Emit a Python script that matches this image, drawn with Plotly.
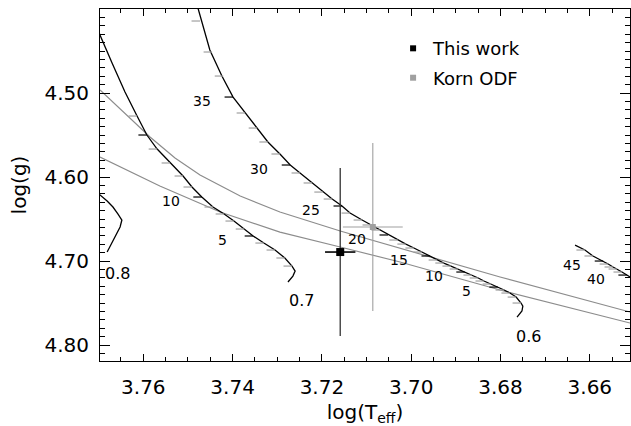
import plotly.graph_objects as go

# ---------------- evolutionary tracks (log Teff, log g) ----------------
# 0.6 Msun track
track_06_teff = [3.7482, 3.7477, 3.7451, 3.7424, 3.7399, 3.7372, 3.7345, 3.7321, 3.7294, 3.7271,
                 3.7249, 3.7222, 3.7198, 3.7177, 3.7155, 3.7137, 3.7110, 3.7090, 3.7070, 3.7052,
                 3.7030, 3.7012, 3.6994, 3.6976, 3.6958, 3.6942, 3.6927, 3.6911, 3.6895, 3.6880,
                 3.6864, 3.6850, 3.6837, 3.6821, 3.6806, 3.6792, 3.6779, 3.6765, 3.6754, 3.6750,
                 3.6752, 3.6763]
track_06_logg = [4.3893, 4.4000, 4.4488, 4.4798, 4.5048, 4.5238, 4.5417, 4.5583, 4.5726, 4.5857,
                 4.5952, 4.6071, 4.6179, 4.6262, 4.6345, 4.6429, 4.6512, 4.6571, 4.6631, 4.6690,
                 4.6750, 4.6798, 4.6845, 4.6893, 4.6940, 4.6988, 4.7024, 4.7060, 4.7095, 4.7131,
                 4.7167, 4.7202, 4.7238, 4.7274, 4.7310, 4.7345, 4.7381, 4.7429, 4.7500, 4.7536,
                 4.7595, 4.7667]
# age marks along the 0.6 Msun track (Gyr)
ages_06 = [38, 37, 36, 35, 34, 33, 32, 31, 30, 29, 28, 27, 26, 25, 24, 23, 22, 21, 20,
           19, 18, 17, 16, 15, 14, 13, 12, 11, 10, 9, 8, 7, 6, 5, 4, 3, 2, 1]
ages_06_teff = [3.7473, 3.7446, 3.7421, 3.7399, 3.7372, 3.7345, 3.7321, 3.7294, 3.7271, 3.7249,
                3.7222, 3.7198, 3.7177, 3.7155, 3.7137, 3.7110, 3.7090, 3.7070, 3.7052, 3.7030,
                3.7012, 3.6994, 3.6976, 3.6958, 3.6942, 3.6927, 3.6911, 3.6895, 3.6880, 3.6864,
                3.6850, 3.6837, 3.6821, 3.6806, 3.6792, 3.6779, 3.6765, 3.6754]
ages_06_logg = [4.4143, 4.4512, 4.4798, 4.5048, 4.5238, 4.5417, 4.5583, 4.5726, 4.5857, 4.5952,
                4.6071, 4.6179, 4.6262, 4.6345, 4.6429, 4.6512, 4.6571, 4.6631, 4.6690, 4.6750,
                4.6798, 4.6845, 4.6893, 4.6940, 4.6988, 4.7024, 4.7060, 4.7095, 4.7131, 4.7167,
                4.7202, 4.7238, 4.7274, 4.7310, 4.7345, 4.7381, 4.7429, 4.7500]
labels_06 = [35, 30, 25, 20, 15, 10, 5]

# 0.7 Msun track
track_07_teff = [3.7708, 3.7697, 3.7670, 3.7641, 3.7614, 3.7592, 3.7569, 3.7540, 3.7511, 3.7491,
                 3.7469, 3.7444, 3.7419, 3.7397, 3.7374, 3.7354, 3.7330, 3.7305, 3.7283, 3.7267,
                 3.7260, 3.7265, 3.7276]
track_07_logg = [4.4155, 4.4310, 4.4643, 4.4988, 4.5274, 4.5500, 4.5667, 4.5833, 4.5988, 4.6119,
                 4.6238, 4.6357, 4.6440, 4.6524, 4.6619, 4.6702, 4.6786, 4.6869, 4.6964, 4.7060,
                 4.7119, 4.7179, 4.7250]
ages_07 = [16, 15, 14, 13, 12, 11, 10, 9, 8, 7, 6, 5, 4, 3, 2, 1]
ages_07_teff = [3.7614, 3.7592, 3.7569, 3.7540, 3.7511, 3.7491, 3.7469, 3.7444, 3.7419, 3.7397,
                3.7374, 3.7354, 3.7330, 3.7305, 3.7283, 3.7267]
ages_07_logg = [4.5274, 4.5500, 4.5667, 4.5833, 4.5988, 4.6119, 4.6238, 4.6357, 4.6440, 4.6524,
                4.6619, 4.6702, 4.6786, 4.6869, 4.6964, 4.7060]
labels_07 = [10, 5]

# 0.8 Msun track
track_08_teff = [3.7708, 3.7697, 3.7681, 3.7668, 3.7657, 3.7648, 3.7652, 3.7659, 3.7670, 3.7681]
track_08_logg = [4.6155, 4.6214, 4.6286, 4.6357, 4.6440, 4.6512, 4.6595, 4.6667, 4.6786, 4.6893]

# lowest-mass track (only its oldest part falls inside the window)
track_lo_teff = [3.6633, 3.6611, 3.6593, 3.6570, 3.6559, 3.6548, 3.6539, 3.6528, 3.6517, 3.6488]
track_lo_logg = [4.6810, 4.6869, 4.6940, 4.7000, 4.7036, 4.7071, 4.7095, 4.7131, 4.7167, 4.7262]
ages_lo = [47, 46, 45, 44, 43, 42, 41, 40]
ages_lo_teff = [3.6611, 3.6593, 3.6570, 3.6559, 3.6548, 3.6539, 3.6528, 3.6517]
ages_lo_logg = [4.6869, 4.6940, 4.7000, 4.7036, 4.7071, 4.7095, 4.7131, 4.7167]
labels_lo = [45, 40]

# mass labels
mass_text = ["0.8", "0.7", "0.6"]
mass_teff = [3.7657, 3.7245, 3.6738]
mass_logg = [4.7143, 4.7464, 4.7893]

# ---------------- grey reference curves ----------------
upper_teff = [3.7697, 3.7641, 3.7585, 3.7529, 3.7473, 3.7383, 3.7294, 3.7159, 3.7025, 3.6801, 3.6510]
upper_logg = [4.4964, 4.5238, 4.5524, 4.5774, 4.5976, 4.6226, 4.6417, 4.6643, 4.6845, 4.7190, 4.7607]
lower_teff = [3.7697, 3.7563, 3.7428, 3.7294, 3.7159, 3.7025, 3.6801, 3.6510]
lower_logg = [4.5762, 4.6107, 4.6417, 4.6655, 4.6833, 4.7012, 4.7345, 4.7738]

# ---------------- stellar parameters ----------------
this_teff, this_teff_err = 3.7159, 0.0034
this_logg, this_logg_err = 4.6893, 0.100
korn_teff, korn_teff_err = 3.7086, 0.0067
korn_logg, korn_logg_err = 4.6595, 0.100

# ---------------- style ----------------
FONT = "DejaVu Sans"
GREY = "#8c8c8c"
TICK_LEN = 0.0019  # length of the age marks in log Teff

fig = go.Figure()


def add_track(teff, logg):
    fig.add_trace(go.Scatter(x=teff, y=logg, mode="lines",
                             line=dict(color="black", width=1.3),
                             showlegend=False, hoverinfo="skip"))


def add_age_marks(ages, teff, logg, labelled):
    for major in (False, True):
        xs, ys = [], []
        for a, t, g in zip(ages, teff, logg):
            if (a % 5 == 0) == major:
                xs += [t + TICK_LEN, t, None]
                ys += [g, g, None]
        fig.add_trace(go.Scatter(x=xs, y=ys, mode="lines",
                                 line=dict(color="black" if major else "#a0a0a0", width=1.2),
                                 showlegend=False, hoverinfo="skip"))
    for a, t, g in zip(ages, teff, logg):
        if a in labelled:
            fig.add_annotation(x=t, y=g, text=str(a), showarrow=False,
                               xshift=-31, yshift=-4,
                               font=dict(family=FONT, size=14, color="black"))


# grey curves
for tx, gy in ((upper_teff, upper_logg), (lower_teff, lower_logg)):
    fig.add_trace(go.Scatter(x=tx, y=gy, mode="lines", line=dict(color=GREY, width=1.2),
                             showlegend=False, hoverinfo="skip"))

# tracks and their age marks
add_track(track_06_teff, track_06_logg)
add_track(track_07_teff, track_07_logg)
add_track(track_08_teff, track_08_logg)
add_track(track_lo_teff, track_lo_logg)
add_age_marks(ages_06, ages_06_teff, ages_06_logg, labels_06)
add_age_marks(ages_07, ages_07_teff, ages_07_logg, labels_07)
add_age_marks(ages_lo, ages_lo_teff, ages_lo_logg, labels_lo)

for txt, t, g in zip(mass_text, mass_teff, mass_logg):
    fig.add_annotation(x=t, y=g, text=txt, showarrow=False,
                       font=dict(family=FONT, size=16, color="black"))

# measured points
fig.add_trace(go.Scatter(
    x=[korn_teff], y=[korn_logg], mode="markers",
    marker=dict(symbol="square", size=6, color="#a0a0a0"),
    error_x=dict(type="constant", value=korn_teff_err, color="#a0a0a0", thickness=1.1, width=0),
    error_y=dict(type="constant", value=korn_logg_err, color="#a0a0a0", thickness=1.1, width=0),
    showlegend=False, hoverinfo="skip"))
fig.add_trace(go.Scatter(
    x=[this_teff], y=[this_logg], mode="markers",
    marker=dict(symbol="square", size=8, color="black"),
    error_x=dict(type="constant", value=this_teff_err, color="black", thickness=1.6, width=0),
    error_y=dict(type="constant", value=this_logg_err, color="#333333", thickness=1.3, width=0),
    showlegend=False, hoverinfo="skip"))

# legend entries
fig.add_trace(go.Scatter(x=[None], y=[None], mode="markers", name="This work",
                         legendgroup="this",
                         marker=dict(symbol="square", size=6, color="black")))
fig.add_trace(go.Scatter(x=[None], y=[None], mode="markers", name="Korn ODF",
                         legendgroup="korn",
                         marker=dict(symbol="square", size=6, color="#a0a0a0")))

axis_common = dict(showline=True, linecolor="black", linewidth=1, mirror="ticks",
                   showgrid=False, zeroline=False, ticks="inside", tickcolor="black",
                   tickwidth=1, tickfont=dict(family=FONT, size=20, color="black"),
                   tickformat=".2f")

fig.update_xaxes(range=[3.7697, 3.6510], tick0=3.76, dtick=0.02, ticklen=7,
                 ticklabelstandoff=8,
                 minor=dict(dtick=0.005, tick0=3.76, ticks="inside", ticklen=4,
                            tickcolor="black", tickwidth=1, showgrid=False),
                 title=dict(text="log(T<sub>eff</sub>)", standoff=6,
                            font=dict(family=FONT, size=20, color="black")),
                 **axis_common)
fig.update_yaxes(range=[4.819, 4.400], tick0=4.5, dtick=0.1, ticklen=10,
                 ticklabelstandoff=6,
                 minor=dict(dtick=0.01, tick0=4.5, ticks="inside", ticklen=5,
                            tickcolor="black", tickwidth=1, showgrid=False),
                 title=dict(text="log(g)", standoff=12,
                            font=dict(family=FONT, size=20, color="black")),
                 **axis_common)

fig.update_layout(
    width=631, height=426,
    margin=dict(l=100, r=1, t=9, b=65),
    plot_bgcolor="white", paper_bgcolor="white",
    showlegend=True,
    legend=dict(x=0.553, y=0.94, xanchor="left", yanchor="top",
                bgcolor="rgba(0,0,0,0)", borderwidth=0,
                traceorder="grouped", tracegroupgap=3,
                font=dict(family=FONT, size=18, color="black")),
)

fig.write_html("out.html")
